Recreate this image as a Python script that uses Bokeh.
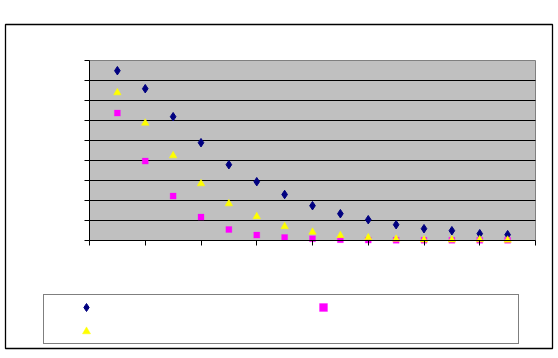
from bokeh.plotting import figure
from bokeh.models import (ColumnDataSource, SingleIntervalTicker,
                          Legend, LegendItem, Range1d, CustomJSTickFormatter)
from bokeh.embed import file_html
from bokeh.resources import INLINE

# ---- data (scale 0..90, no labels visible) ----
x_vals = [1, 2, 3, 4, 5, 6, 7, 8, 9, 10, 11, 12, 13, 14, 15]
series_a = [84.9, 75.9, 61.9, 48.9, 37.9, 29.4, 23.0, 17.4, 13.4, 10.4, 7.9, 5.9, 4.9, 3.4, 2.9]
series_b = [63.7, 39.7, 22.2, 11.7, 5.5, 2.7, 1.5, 0.9, 0.4, 0.2, 0.1, 0.1, 0.1, 0.1, 0.1]
series_c = [73.9, 58.7, 42.4, 28.4, 18.4, 12.0, 7.0, 4.2, 2.5, 1.4, 0.7, 0.3, 0.3, 0.4, 0.2]
x_min, x_max, x_step = 0, 16, 2
y_min, y_max, y_step = 0, 90, 10
grid_vals = list(range(y_min + y_step, y_max, y_step))

# ---- layout (pixels) ----
W, H = 558, 358
outer = dict(left=5, right=552, top=24, bottom=348)      # chart border
area = dict(left=89, right=535, top=60, bottom=240)      # plot area
sx = (area["right"] - area["left"]) / (x_max - x_min)
sy = (area["bottom"] - area["top"]) / (y_max - y_min)
xr = Range1d(x_min - (area["left"] - outer["left"]) / sx,
             x_max + (outer["right"] - area["right"]) / sx)
yr = Range1d(y_min - (outer["bottom"] - area["bottom"]) / sy,
             y_max + (area["top"] - outer["top"]) / sy)

p = figure(width=W, height=H, output_backend="svg", toolbar_location=None,
           x_range=xr, y_range=yr,
           min_border_left=outer["left"], min_border_right=W - outer["right"],
           min_border_top=outer["top"], min_border_bottom=H - outer["bottom"])
p.background_fill_color = "white"
p.border_fill_color = "white"
p.outline_line_color = "black"
p.outline_line_width = 1.3
p.xgrid.visible = False
p.ygrid.visible = False

# grey plot area and its horizontal gridlines
p.quad(left=[x_min], right=[x_max], bottom=[y_min], top=[y_max],
       fill_color="#C0C0C0", line_color="#808080", line_width=1, level="image")
p.segment(x0=[x_min] * len(grid_vals), x1=[x_max] * len(grid_vals),
          y0=grid_vals, y1=grid_vals, line_color="black", line_width=1,
          level="underlay")

for ax in (p.xaxis[0], p.yaxis[0]):
    ax.formatter = CustomJSTickFormatter(code="return ''")
    ax.fixed_location = 0
    ax.axis_line_color = "black"
    ax.axis_line_width = 1
    ax.major_tick_line_color = "black"
    ax.major_tick_in = 0
    ax.major_tick_out = 5
    ax.minor_tick_line_color = None
p.xaxis.ticker = SingleIntervalTicker(interval=x_step)
p.yaxis.ticker = SingleIntervalTicker(interval=y_step)
p.xaxis.bounds = (x_min, x_max)
p.yaxis.bounds = (y_min, y_max)

src = ColumnDataSource(dict(x=x_vals, a=series_a, b=series_b, c=series_c))
ra = p.scatter("x", "a", source=src, marker="diamond", size=8.5,
               fill_color="#000080", line_color="#000080", line_width=1)
rb = p.scatter("x", "b", source=src, marker="square", size=6,
               fill_color="#FF00FF", line_color="#FF00FF", line_width=0.3)
rc = p.scatter("x", "c", source=src, marker="triangle", size=7.5,
               fill_color="#FFFF00", line_color="#FFFF00", line_width=0.5)

# legend (column-major fill: col1 = a, c ; col2 = b)
legend = Legend(items=[LegendItem(label="", renderers=[ra]),
                       LegendItem(label="", renderers=[rc]),
                       LegendItem(label="", renderers=[rb])],
                location=(43 - outer["left"], outer["bottom"] - 344), ncols=2,
                glyph_width=80, glyph_height=20, spacing=4, padding=2,
                margin=0, label_standoff=0, label_width=153, label_height=20,
                label_text_font_size="8px",
                border_line_color="black", border_line_width=1,
                background_fill_color="white", background_fill_alpha=1)
p.add_layout(legend, "center")

open("out.html", "w").write(file_html(p, INLINE))
